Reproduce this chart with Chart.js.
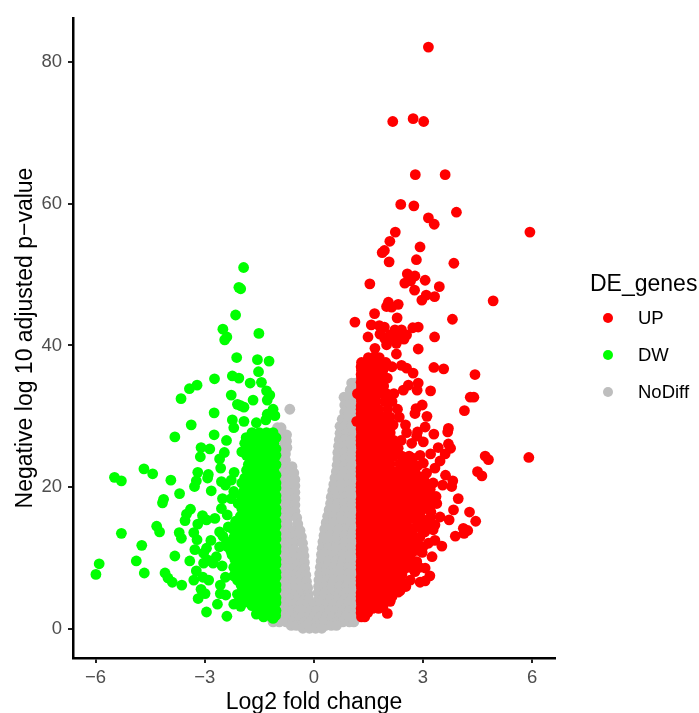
<!DOCTYPE html>
<html>
<head>
<meta charset="utf-8">
<script src="https://cdn.jsdelivr.net/npm/chart.js@4"></script>
<style>
body { margin: 0; background: #fff; font-family: "Liberation Sans", Arial, sans-serif; }
#wrap { position: relative; width: 699px; height: 713px; overflow: hidden; }
#legend-title { position: absolute; left: 590px; top: 268px; font-size: 23px; line-height: 30px; color: #000; white-space: nowrap; }
.legend-dot { position: absolute; left: 603px; width: 10px; height: 10px; border-radius: 50%; }
.legend-label { position: absolute; left: 638px; font-size: 18.5px; line-height: 24px; color: #000; white-space: nowrap; }
</style>
</head>
<body>
<div id="wrap">
    <canvas id="chart-volcano" width="699" height="713"></canvas>
    <div id="legend-title"></div>
</div>
<script>
const xTicks = [-6, -3, 0, 3, 6];
const yTicks = [0, 20, 40, 60, 80];
const legendTitle = 'DE_genes';
const seriesNames = ['UP', 'DW', 'NoDiff'];
const seriesColors = ['#ff0000', '#00ff00', '#bebebe'];

// scattered genes, read one by one [log2fc, -log10 padj]
const upPoints = [
    [3.15,82.1],[2.17,71.6],[2.73,72.0],[3.02,71.6],[2.79,64.1],[3.61,64.1],[2.39,59.9],[2.75,59.7],[3.92,58.8],[3.15,58.0],
    [3.31,57.1],[2.24,56.0],[5.94,56.0],[2.09,54.7],[1.94,53.4],[1.88,53.1],[2.92,53.9],[2.82,52.1],[2.07,51.8],[3.85,51.6],
    [2.57,50.1],[2.78,49.8],[3.06,49.2],[2.5,48.8],[2.66,49.1],[1.54,48.7],[3.45,48.3],[2.77,47.8],[3.09,47.1],[3.32,46.9],
    [2.97,46.4],[4.93,46.3],[2.05,46.1],[2.32,45.8],[2.0,45.5],[2.14,45.4],[1.67,44.5],[2.29,43.9],[3.81,43.7],[1.13,43.3],
    [1.58,42.9],[1.8,42.8],[1.94,42.6],[1.82,41.6],[2.23,42.2],[2.41,42.2],[2.55,41.5],[2.09,41.5],[2.72,42.5],[2.87,42.6],
    [1.49,41.2],[3.32,41.2],[1.95,41.0],[2.15,41.1],[2.32,41.0],[2.48,40.9],[1.68,39.6],[2.0,40.1],[2.27,38.8],[2.87,39.5],
    [2.27,40.3],[3.3,36.9],[3.57,36.7],[4.43,35.9],[4.3,32.7],[4.4,32.7],[4.14,30.8],[2.73,36.1],[2.55,36.8],[2.41,37.2],
    [2.87,34.7],[2.84,33.7],[2.6,34.4],[2.46,33.7],[3.21,33.6],[2.98,31.6],[2.81,31.1],[2.78,30.4],[3.11,30.0],[3.06,28.5],
    [2.85,27.8],[2.83,27.2],[3.3,27.5],[3.7,28.3],[3.68,27.8],[3.01,26.4],[2.69,26.2],[3.7,26.1],[3.76,25.5],[3.42,25.6],
    [3.21,24.7],[2.92,24.5],[3.61,24.7],[3.47,23.7],[4.71,24.4],[4.8,23.9],[5.91,24.2],[3.01,23.4],[3.33,22.7],[3.1,22.0],
    [4.5,22.2],[4.62,21.6],[3.62,21.7],[3.82,20.9],[3.79,20.1],[3.54,20.3],[3.28,20.6],[2.92,20.4],[3.2,19.7],[3.03,19.2],
    [3.97,18.4],[3.38,17.7],[3.36,18.7],[3.84,16.8],[4.28,16.5],[3.22,16.5],[2.78,16.5],[4.45,15.2],[3.72,15.4],[3.47,15.8],
    [3.01,15.4],[4.11,14.2],[4.23,13.9],[4.13,13.5],[3.89,13.1],[3.33,14.7],[3.28,14.0],[2.92,13.0],[3.15,12.1],[3.33,12.5],
    [3.52,11.7],[3.25,10.2],[2.87,11.1],[2.83,9.5],[3.06,8.6],[2.78,8.1],[3.19,7.5],[3.06,6.8],[2.92,6.6],[2.53,6.0],
    [2.37,5.4],[2.02,2.2],[2.72,21.6],[2.95,18.1],[2.82,17.9],[2.7,19.4],[2.62,12.7],[2.75,14.2],[2.58,10.4],[2.47,8.4]
];
// dense block of the UP genes, one line per height: [y, [x, x, ...]]
const upRows = [
    [38.3,[1.5,1.65,1.8]],[37.6,[1.31,1.42,1.6,1.82,1.98]],[37.0,[1.3,2.15]],[36.5,[1.31,1.5,1.7,1.9]],[35.9,[1.3]],
    [35.4,[1.31,1.42,1.62,1.82,2.02]],[34.8,[1.3]],[34.3,[1.31,1.5,1.7,1.92]],[33.7,[1.3]],[33.2,[1.2,1.38,1.6,1.8,2.0,2.2]],
    [32.6,[1.3]],[32.1,[1.31,1.5,1.7,1.95,2.15]],[31.5,[1.3]],[31.0,[1.3,1.42,1.62,1.78,2.03,2.3]],[30.4,[1.3]],
    [29.9,[1.31,1.5,1.7,1.9,2.1,2.35]],[29.3,[1.18]],[28.8,[1.3,1.4,1.6,1.8,2.0,2.18,2.52]],[28.2,[1.3]],
    [27.7,[1.31,1.5,1.7,1.9,2.1,2.55]],[27.1,[1.3]],[26.6,[1.3,1.4,1.6,1.8,2.0,2.2,2.4]],[26.0,[1.3]],
    [25.5,[1.31,1.5,1.7,1.9,2.1,2.32]],[24.9,[1.3]],[24.4,[1.3,1.4,1.6,1.8,2.0,2.2,2.42,2.62]],[23.8,[1.3]],
    [23.3,[1.31,1.5,1.7,1.9,2.1,2.36,2.58]],[22.7,[1.3]],[22.2,[1.3,1.4,1.6,1.8,2.0,2.2,2.4,2.6]],[21.6,[1.3]],
    [21.1,[1.31,1.5,1.7,1.9,2.1,2.3,2.5,2.75]],[20.5,[1.3]],[20.0,[1.3,1.4,1.6,1.8,2.0,2.2,2.4,2.6,2.82]],[19.4,[1.3]],
    [18.9,[1.31,1.5,1.7,1.9,2.1,2.3,2.5,2.88]],[18.3,[1.3]],[17.8,[1.3,1.4,1.6,1.8,2.0,2.2,2.4,2.62]],[17.2,[1.3]],
    [16.7,[1.31,1.5,1.7,1.9,2.1,2.3,2.52]],[16.1,[1.3]],[15.6,[1.3,1.4,1.6,1.8,2.0,2.2,2.4,2.62]],[15.0,[1.3]],
    [14.5,[1.31,1.5,1.7,1.9,2.1,2.3,2.52]],[13.9,[1.3]],[13.4,[1.3,1.4,1.6,1.8,2.0,2.2,2.42,2.66]],[12.8,[1.3]],
    [12.3,[1.31,1.5,1.7,1.9,2.1,2.3,2.52]],[11.7,[1.3]],[11.2,[1.3,1.4,1.6,1.8,2.0,2.2,2.42,2.6]],[10.6,[1.3]],
    [10.1,[1.31,1.5,1.7,1.9,2.1,2.3,2.48]],[9.5,[1.3]],[9.0,[1.3,1.4,1.6,1.8,2.0,2.2,2.4]],[8.4,[1.3]],
    [7.9,[1.31,1.5,1.7,1.9,2.1,2.3]],[7.3,[1.3]],[6.8,[1.3,1.4,1.6,1.8,2.0,2.2]],[6.2,[1.3]],
    [5.7,[1.31,1.5,1.7,1.9,2.1,2.25]],[5.1,[1.3]],[4.6,[1.3,1.4,1.6,1.8,2.0,2.15]],[4.0,[1.3]],
    [3.5,[1.31,1.5,1.7,1.88]],[2.9,[1.3,1.42,1.62,1.78]],[2.3,[1.3,1.48]],[1.7,[1.31,1.4]],
    // right flank of the block, looser
    [24.1,[2.72]],[23.0,[2.48,2.72,2.85]],[22.1,[2.78]],[21.5,[2.55,2.9]],[20.8,[2.65,3.05]],[20.1,[2.72,3.12]],[19.6,[2.6,2.8]],
    [19.1,[2.65,3.12]],[18.4,[2.75,3.22]],[17.8,[2.72,3.1]],[17.2,[2.55,2.9,3.2]],[16.9,[2.65,3.0]],[16.1,[2.5,2.92]],
    [15.7,[2.72,3.2]],[14.9,[2.55,2.85,3.12]],[14.3,[2.45,2.95]],[13.7,[2.6,3.05]],[13.0,[2.75]],[12.2,[2.65,2.85]],
    [11.6,[2.5,2.75,3.0]],[10.8,[2.7,2.98]],[10.0,[2.62]],[9.4,[2.55,2.72]],[8.7,[2.32,2.65,2.9]],[7.7,[2.42]],
    [6.9,[2.38,2.65]],[6.3,[2.4]],[5.2,[2.32]],[3.9,[1.95,2.1]],[3.1,[1.9]]
];

const dwPoints = [
    [-1.93,51.0],[-2.06,48.2],[-2.01,48.0],[-2.15,44.3],[-2.5,42.3],[-1.51,41.7],[-2.39,41.2],[-2.45,40.8],[-2.12,38.3],[-1.55,38.0],
    [-1.23,37.8],[-1.52,36.3],[-2.73,35.3],[-2.24,35.7],[-2.06,35.4],[-1.75,34.7],[-1.44,34.8],[-3.21,34.4],[-3.42,33.9],[-1.3,33.6],
    [-1.21,33.0],[-2.27,33.0],[-3.65,32.5],[-1.67,32.3],[-1.28,32.3],[-2.1,31.7],[-2.01,31.5],[-1.92,31.3],[-1.12,31.0],[-2.74,30.5],
    [-1.28,30.3],[-1.07,30.1],[-1.32,29.5],[-2.24,29.5],[-1.92,29.3],[-1.58,29.1],[-3.37,28.8],[-2.2,28.4],[-2.74,27.4],[-3.82,27.1],
    [-2.4,26.6],[-3.1,25.6],[-2.86,25.4],[-2.46,24.9],[-1.98,25.0],[-3.12,24.3],[-2.59,24.0],[-4.67,22.6],[-2.56,22.7],[-5.48,21.4],
    [-5.29,20.9],[-4.43,21.9],[-3.19,22.1],[-2.9,21.8],[-2.92,21.3],[-2.19,22.1],[-3.93,21.0],[-3.23,20.9],[-3.28,20.1],[-2.54,20.8],
    [-2.43,20.3],[-2.27,21.0],[-2.82,19.5],[-3.69,19.1],[-4.13,18.3],[-4.16,17.8],[-2.51,18.4],[-2.27,18.4],[-3.39,16.9],[-3.5,16.2],
    [-3.54,15.3],[-3.06,16.0],[-2.95,15.4],[-2.72,15.6],[-2.54,17.0],[-3.19,14.8],[-3.3,13.6],[-4.32,14.5],[-4.24,13.7],[-5.29,13.5],
    [-3.7,13.6],[-3.64,12.8],[-3.21,12.6],[-2.59,13.7],[-2.83,12.5],[-4.73,11.8],[-3.27,11.2],[-2.95,11.4],[-3.03,10.7],[-2.59,11.6],
    [-3.82,10.3],[-2.68,10.2],[-2.91,9.7],[-2.77,9.3],[-3.03,9.3],[-2.52,8.9],[-4.88,9.6],[-3.41,9.6],[-5.9,9.2],[-5.99,7.7],
    [-4.66,7.9],[-4.09,7.9],[-4.01,7.2],[-3.89,6.6],[-3.63,6.2],[-3.23,8.2],[-3.3,6.9],[-3.05,7.3],[-2.89,6.9],[-2.43,7.3],
    [-2.57,6.2],[-3.1,5.6],[-2.99,5.0],[-3.18,4.3],[-2.57,5.0],[-2.42,4.8],[-2.65,3.5],[-2.95,2.4],[-2.39,1.8],[-2.2,3.5],
    [-2.01,3.2],[-2.04,4.3],[-1.58,2.1],[-1.38,1.7],[-2.35,14.4],[-2.42,12.0],[-2.5,13.1],[-2.38,16.1],[-2.2,19.4]
];
const dwRows = [
    [27.7,[-1.7,-1.5,-1.3,-1.12]],[27.0,[-1.86,-1.6,-1.4,-1.2,-1.04]],[26.2,[-1.9,-1.7,-1.5,-1.3,-1.1]],[25.4,[-1.04]],
    [25.0,[-1.6,-1.4,-1.2]],[24.5,[-1.85,-1.66,-1.04]],[23.9,[-1.5,-1.3,-1.1]],[23.2,[-1.8,-1.6,-1.4,-1.2,-1.04]],
    [22.4,[-1.85,-1.7,-1.5,-1.3,-1.1]],[21.7,[-1.04]],[21.3,[-1.9,-1.6,-1.4,-1.2]],[20.6,[-1.98,-1.8,-1.65,-1.5,-1.3,-1.1,-1.04]],
    [19.9,[-1.04]],[19.5,[-1.92,-1.7,-1.6,-1.4,-1.2]],[18.8,[-2.0,-1.8,-1.65,-1.5,-1.3,-1.1,-1.04]],[18.1,[-1.04]],
    [17.7,[-2.08,-1.9,-1.7,-1.6,-1.4,-1.2]],[17.0,[-1.98,-1.8,-1.65,-1.5,-1.3,-1.1,-1.04]],[16.3,[-1.04]],
    [15.9,[-2.02,-1.7,-1.6,-1.4,-1.2]],[15.2,[-2.15,-1.9,-1.8,-1.65,-1.5,-1.3,-1.1,-1.04]],[14.5,[-1.04]],
    [14.1,[-2.23,-2.05,-1.9,-1.7,-1.6,-1.4,-1.2]],[13.4,[-2.15,-2.0,-1.8,-1.65,-1.5,-1.3,-1.1,-1.04]],[12.7,[-1.04]],
    [12.3,[-2.3,-2.1,-1.9,-1.7,-1.6,-1.4,-1.2]],[11.6,[-2.37,-2.2,-2.0,-1.8,-1.65,-1.5,-1.3,-1.1,-1.04]],[10.9,[-1.04]],
    [10.5,[-2.25,-2.1,-1.9,-1.7,-1.6,-1.4,-1.2]],[9.8,[-2.17,-2.0,-1.8,-1.65,-1.5,-1.3,-1.1,-1.04]],[9.1,[-1.04]],
    [8.7,[-2.2,-2.05,-1.9,-1.7,-1.6,-1.4,-1.2]],[8.0,[-2.12,-2.0,-1.8,-1.65,-1.5,-1.3,-1.1,-1.04]],[7.3,[-1.04]],
    [6.9,[-2.1,-1.9,-1.7,-1.6,-1.4,-1.2]],[6.2,[-2.0,-1.8,-1.65,-1.5,-1.3,-1.1,-1.04]],[5.5,[-1.04]],
    [5.1,[-1.9,-1.7,-1.6,-1.4,-1.2]],[4.4,[-1.85,-1.65,-1.5,-1.3,-1.1,-1.04]],[3.7,[-1.04]],
    [3.3,[-1.7,-1.48,-1.3,-1.2]],[2.6,[-1.3,-1.12,-1.04]],[1.9,[-1.18,-1.05]],[1.5,[-1.12]],
    // left flank of the block
    [25.6,[-1.8]],[24.0,[-1.75]],[21.9,[-1.75]],[19.1,[-1.85]],[16.4,[-1.9]],[14.8,[-2.1]],[12.9,[-2.2,-2.05]],
    [11.0,[-2.28,-2.1]],[9.2,[-2.12]],[7.5,[-2.2,-2.05]],[5.7,[-1.95]],[4.9,[-2.1]],[3.8,[-1.8,-1.6]],[2.9,[-1.5]]
];

const ndRows = [
    [34.7,[1.04,1.15,1.3]],[33.7,[1.0,1.15,1.3]],[32.7,[0.83,0.95,1.15,1.3]],[31.6,[0.85,0.95,1.15,1.3]],[30.6,[0.85,0.95,1.15,1.3]],
    [29.6,[0.78,0.95,1.15,1.3]],[28.6,[0.72,0.85,1.05,1.25]],[27.6,[0.72,0.9,1.1,1.25]],[26.7,[0.7,0.85,1.05,1.25]],[25.8,[0.68,0.85,1.05,1.25]],
    [24.9,[0.66,0.85,1.05,1.25]],[24.0,[0.66,0.85,1.05,1.25]],[23.1,[0.64,0.85,1.05,1.25]],[22.2,[0.62,0.85,1.05,1.25]],
    [21.3,[0.58,0.75,0.95,1.15,1.3]],[20.4,[0.55,0.75,0.95,1.15,1.3]],[19.5,[0.52,0.75,0.95,1.15,1.3]],[18.6,[0.48,0.65,0.85,1.05,1.25]],
    [17.7,[0.46,0.65,0.85,1.05,1.25]],[16.8,[0.42,0.65,0.85,1.05,1.25]],[15.9,[0.38,0.55,0.75,0.95,1.15,1.3]],[15.0,[0.34,0.55,0.75,0.95,1.15,1.3]],
    [14.1,[0.3,0.5,0.7,0.9,1.1,1.28]],[13.2,[0.28,0.45,0.65,0.85,1.05,1.25]],[12.3,[0.25,0.45,0.65,0.85,1.05,1.25]],[11.4,[0.23,0.4,0.6,0.8,1.0,1.2]],
    [10.5,[0.21,0.4,0.6,0.8,1.0,1.2]],[9.6,[0.2,0.4,0.6,0.8,1.0,1.2]],[8.7,[0.18,0.35,0.55,0.75,0.95,1.15,1.3]],[7.8,[0.16,0.35,0.55,0.75,0.95,1.15,1.3]],
    [6.9,[0.14,0.35,0.55,0.75,0.95,1.15,1.3]],[6.0,[0.13,0.3,0.5,0.7,0.9,1.1,1.28]],[5.1,[0.12,0.3,0.5,0.7,0.9,1.1,1.28]],
    [31.0,[-0.66]],[28.4,[-1.0,-0.9]],[27.4,[-0.95,-0.75]],[26.5,[-0.95,-0.75]],[25.6,[-0.95,-0.74]],[24.7,[-0.98,-0.78]],[23.8,[-0.95,-0.78]],
    [22.9,[-0.95,-0.78,-0.6]],[22.0,[-0.95,-0.75,-0.55]],[21.1,[-0.95,-0.72,-0.52]],[20.2,[-0.95,-0.72,-0.52]],[19.3,[-0.95,-0.72,-0.52]],
    [18.4,[-0.95,-0.72,-0.52]],[17.5,[-0.95,-0.72,-0.52]],[16.6,[-0.95,-0.72,-0.52]],[15.7,[-0.95,-0.72,-0.47]],[14.8,[-0.95,-0.72,-0.44]],
    [13.9,[-0.95,-0.75,-0.55,-0.38]],[13.0,[-0.95,-0.75,-0.55,-0.34]],[12.1,[-0.95,-0.75,-0.55,-0.31]],[11.2,[-0.95,-0.75,-0.55,-0.29]],
    [10.3,[-0.95,-0.75,-0.55,-0.35,-0.27]],[9.4,[-0.95,-0.75,-0.55,-0.35,-0.26]],[8.5,[-0.95,-0.75,-0.55,-0.35,-0.25]],[7.6,[-0.95,-0.75,-0.55,-0.35,-0.22]],
    [6.7,[-0.95,-0.75,-0.55,-0.35,-0.2]],[5.8,[-0.95,-0.75,-0.55,-0.35,-0.17]],[4.9,[-0.95,-0.75,-0.55,-0.35,-0.15]],
    [4.2,[-1.05,-0.85,-0.65,-0.45,-0.25,-0.14,0.14,0.25,0.45,0.65,0.85,1.05,1.25]],
    [3.5,[-1.1,-0.95,-0.75,-0.55,-0.35,-0.16,0.0,0.16,0.35,0.55,0.75,0.95,1.15,1.28]],
    [2.6,[-1.15,-0.95,-0.76,-0.58,-0.42,-0.26,-0.08,0.08,0.26,0.44,0.62,0.8,0.98,1.16]],
    [1.7,[-1.2,-1.02,-0.86,-0.68,-0.5,-0.33,-0.16,0.0,0.16,0.34,0.52,0.7,0.88,1.06,1.24]],
    [1.0,[-1.12,-0.95,-0.76,-0.58,-0.42,-0.26,-0.08,0.08,0.26,0.44,0.62,0.8,0.98,1.1]],
    [0.5,[-0.62,-0.48,-0.32,-0.16,0.0,0.16,0.32,0.48,0.62]],[0.1,[-0.3,-0.12,0.05,0.22]]
];

function rowsToPoints(rows) {
    return rows.flatMap(row => row[1].map(x => ({ x: x, y: row[0] })));
}
function pairsToPoints(pairs) {
    return pairs.map(p => ({ x: p[0], y: p[1] }));
}

const seriesData = [
    pairsToPoints(upPoints).concat(rowsToPoints(upRows)),
    pairsToPoints(dwPoints).concat(rowsToPoints(dwRows)),
    rowsToPoints(ndRows),
];

new Chart(document.getElementById('chart-volcano'), {
    type: 'scatter',
    data: {
        datasets: seriesNames.map((name, i) => ({
            label: name,
            data: seriesData[i],
            backgroundColor: seriesColors[i],
            borderWidth: 0,
            pointRadius: 5.4,
        })),
    },
    options: {
        responsive: false,
        animation: false,
        layout: { padding: { top: 18, right: 144 } },
        plugins: {
            legend: { display: false },
            tooltip: { enabled: false },
        },
        scales: {
            x: {
                type: 'linear',
                min: -6.62,
                max: 6.63,
                afterFit: s => { s.height = 55; },
                afterBuildTicks: s => { s.ticks = xTicks.map(v => ({ value: v })); },
                grid: { drawOnChartArea: false, color: '#222', lineWidth: 2, tickLength: 5 },
                border: { color: '#000', width: 2.5 },
                ticks: {
                    color: '#4d4d4d',
                    font: { family: 'Liberation Sans', size: 18.5 },
                    padding: 4,
                    maxRotation: 0,
                    callback: v => String(v).replace('-', '\u2212'),
                },
                title: {
                    display: true,
                    text: 'Log2 fold change',
                    color: '#000',
                    font: { family: 'Liberation Sans', size: 23 },
                    padding: { top: 0, bottom: -3 },
                },
            },
            y: {
                type: 'linear',
                min: -4.09,
                max: 86.2,
                afterFit: s => { s.width = 73; },
                afterBuildTicks: s => { s.ticks = yTicks.map(v => ({ value: v })); },
                grid: { drawOnChartArea: false, color: '#222', lineWidth: 2, tickLength: 5 },
                border: { color: '#000', width: 2.5 },
                ticks: {
                    color: '#4d4d4d',
                    font: { family: 'Liberation Sans', size: 18.5 },
                    padding: 6,
                },
                title: {
                    display: true,
                    text: 'Negative log 10 adjusted p\u2212value',
                    color: '#000',
                    font: { family: 'Liberation Sans', size: 23 },
                    padding: { top: 12, bottom: 0 },
                },
            },
        },
    },
});

// legend sits outside the plot, same place as the ggplot guide
const wrap = document.getElementById('wrap');
document.getElementById('legend-title').textContent = legendTitle;
const legendRowsY = [318, 355, 392];
seriesNames.forEach((name, i) => {
    const dot = document.createElement('div');
    dot.className = 'legend-dot';
    dot.style.top = (legendRowsY[i] - 5) + 'px';
    dot.style.background = seriesColors[i];
    wrap.appendChild(dot);
    const label = document.createElement('div');
    label.className = 'legend-label';
    label.style.top = (legendRowsY[i] - 12) + 'px';
    label.textContent = name;
    wrap.appendChild(label);
});
</script>
</body>
</html>
